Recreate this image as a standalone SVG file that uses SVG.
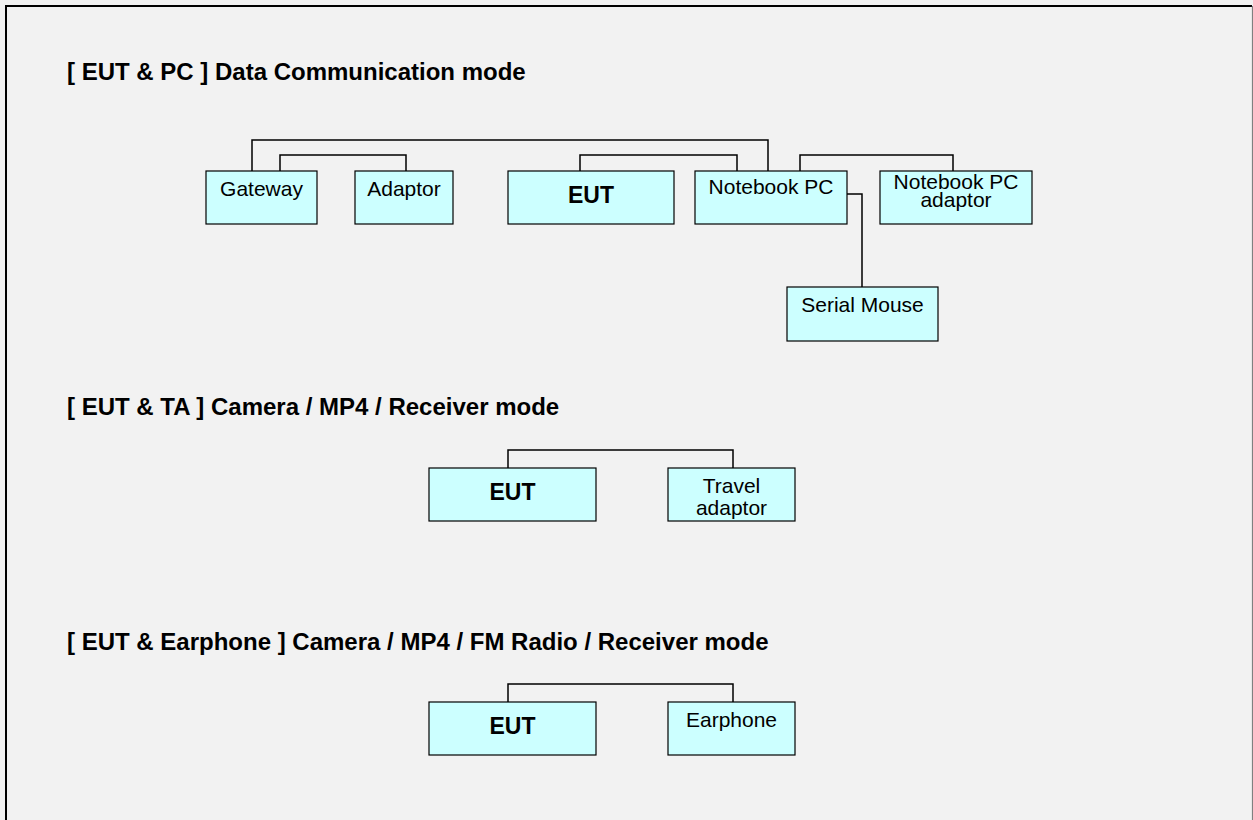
<svg xmlns="http://www.w3.org/2000/svg" width="1253" height="820" viewBox="0 0 1253 820">
<style>
.box{fill:#ccffff;stroke:#000;stroke-width:1.2}
.t{font-family:"Liberation Sans",Arial,sans-serif;font-size:21px;fill:#000;text-anchor:middle}
.b{font-family:"Liberation Sans",Arial,sans-serif;font-size:23px;font-weight:bold;fill:#000;text-anchor:middle}
.h{font-family:"Liberation Sans",Arial,sans-serif;font-size:24px;font-weight:bold;fill:#000}
.c{fill:none;stroke:#000;stroke-width:1.5}
</style>
<rect x="0" y="0" width="1253" height="820" fill="#f2f2f2"/>
<path d="M6 820 V6 H1252" fill="none" stroke="#000" stroke-width="2"/>
<line x1="1252.5" y1="6" x2="1252.5" y2="820" stroke="#808080" stroke-width="1.2"/>
<text class="h" x="67" y="80">[ EUT &amp; PC ] Data Communication mode</text>
<text class="h" x="67" y="415">[ EUT &amp; TA ] Camera / MP4 / Receiver mode</text>
<text class="h" x="67" y="650">[ EUT &amp; Earphone ] Camera / MP4 / FM Radio / Receiver mode</text>
<g id="connectors">
<path class="c" d="M252 171 V140 H768 V171"/>
<path class="c" d="M280 171 V155 H406 V171"/>
<path class="c" d="M580 171 V155 H737 V171"/>
<path class="c" d="M800 171 V155 H953 V171"/>
<path class="c" d="M847 194 H862 V287"/>
<path class="c" d="M508 468 V450 H733 V468"/>
<path class="c" d="M508 702 V684 H733 V702"/>
</g>
<g id="gateway"><rect class="box" x="206" y="171" width="111" height="53"/><text class="t" x="261.5" y="196">Gateway</text></g>
<g id="adaptor"><rect class="box" x="355" y="171" width="98" height="53"/><text class="t" x="404" y="196">Adaptor</text></g>
<g id="eut1"><rect class="box" x="508" y="171" width="166" height="53"/><text class="b" x="591" y="203">EUT</text></g>
<g id="notebook"><rect class="box" x="695" y="171" width="152" height="53"/><text class="t" x="771" y="194">Notebook PC</text></g>
<g id="notebook-adaptor"><rect class="box" x="880" y="171" width="152" height="53"/><text class="t" x="956" y="189">Notebook PC</text><text class="t" x="956" y="207">adaptor</text></g>
<g id="serial-mouse"><rect class="box" x="787" y="287" width="151" height="54"/><text class="t" x="862.5" y="312">Serial Mouse</text></g>
<g id="eut2"><rect class="box" x="429" y="468" width="167" height="53"/><text class="b" x="512.5" y="500">EUT</text></g>
<g id="travel-adaptor"><rect class="box" x="668" y="468" width="127" height="53"/><text class="t" x="731.5" y="493">Travel</text><text class="t" x="731.5" y="515">adaptor</text></g>
<g id="eut3"><rect class="box" x="429" y="702" width="167" height="53"/><text class="b" x="512.5" y="734">EUT</text></g>
<g id="earphone"><rect class="box" x="668" y="702" width="127" height="53"/><text class="t" x="731.5" y="727">Earphone</text></g>
</svg>
